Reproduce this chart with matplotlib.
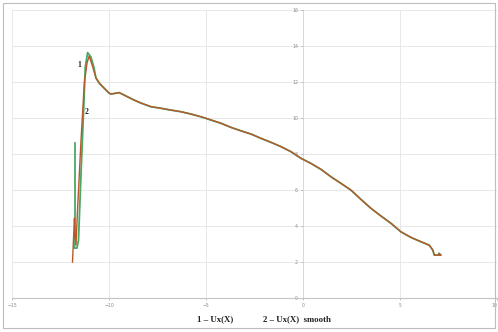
import matplotlib
matplotlib.use('Agg')
import matplotlib.pyplot as plt
from matplotlib.patches import Rectangle

# curve 2 - Ux(X) smooth
red_x = [-11.88, -11.83, -11.78, -11.75, -11.70, -11.62, -11.44, -11.27, -11.13, -11.02,
         -10.84, -10.67, -10.50, -10.26, -10.00, -9.90, -9.47, -9.23, -8.71, -8.35,
         -7.84, -7.32, -6.80, -6.29, -5.77, -5.26, -4.74, -4.23, -3.71, -3.20,
         -2.68, -2.16, -1.65, -1.13, -0.62, -0.10, 0.41, 0.93, 1.44, 1.96,
         2.47, 2.99, 3.51, 4.02, 4.54, 5.05, 5.57, 6.08, 6.51, 6.69,
         6.77, 7.11, 7.01]
red_y = [2.00, 3.22, 4.44, 3.50, 2.94, 4.89, 8.78, 11.94, 13.06, 13.44,
         12.85, 12.22, 11.94, 11.67, 11.39, 11.33, 11.41, 11.28, 11.00, 10.83,
         10.63, 10.54, 10.44, 10.35, 10.22, 10.07, 9.89, 9.71, 9.48, 9.29,
         9.11, 8.87, 8.65, 8.41, 8.13, 7.76, 7.48, 7.15, 6.74, 6.37,
         6.00, 5.48, 4.98, 4.56, 4.15, 3.68, 3.37, 3.13, 2.94, 2.67,
         2.39, 2.39, 2.48]

# curve 1 - Ux(X), start part (after the peak it runs under curve 2)
green_x0 = [-11.75, -11.75, -11.80, -11.65, -11.57, -11.44, -11.30, -11.22, -11.10, -10.93, -10.77]
green_y0 = [8.61, 3.06, 2.78, 2.78, 3.22, 6.94, 10.61, 12.83, 13.63, 13.39, 12.78]

x_ticks = [-15, -10, -5, 0, 5, 10]
y_ticks = [0, 2, 4, 6, 8, 10, 12, 14, 16]

green_x = green_x0 + red_x[11:]
green_y = green_y0 + red_y[11:]

fig = plt.figure(figsize=(4.98, 3.32), dpi=100)
ax = fig.add_axes([0.024, 0.102, 0.974, 0.868])

ax.plot(green_x, green_y, color='#4aa865', lw=1.3, zorder=3)
ax.plot(red_x, red_y, color='#b8582a', lw=1.0, zorder=4)

ax.set_xlim(-15, 10)
ax.set_ylim(0, 16)
ax.set_xticks(x_ticks)
ax.set_yticks(y_ticks)
ax.grid(True, color='#e4e4e4', lw=0.6)
ax.set_axisbelow(True)

for s in ['top', 'right']:
    ax.spines[s].set_visible(False)
ax.spines['left'].set_position(('data', 0))
ax.spines['left'].set_color('#d6d6d6')
ax.spines['bottom'].set_color('#c4c4c4')
ax.spines['left'].set_linewidth(0.6)
ax.spines['bottom'].set_linewidth(0.8)
ax.tick_params(axis='both', labelsize=3.3, colors='#8a8a8a', length=1.5, width=0.4, pad=2)
ax.get_xticklabels()[-1].set_ha('right')

# text labels near the peak
ax.text(-11.53, 12.94, '1', fontsize=5.5, fontweight='bold', family='Liberation Serif',
        ha='center', va='center', color='#222222')
ax.text(-11.13, 10.35, '2', fontsize=5.5, fontweight='bold', family='Liberation Serif',
        ha='center', va='center', color='#222222')

fig.text(0.432, 0.04, '1 – Ux(X)', fontsize=6.3, fontweight='bold', family='Liberation Serif',
         ha='center', va='center', color='#222222')
fig.text(0.596, 0.04, '2 – Ux(X)  smooth', fontsize=6.3, fontweight='bold', family='Liberation Serif',
         ha='center', va='center', color='#222222')

fig.patches.append(Rectangle((0.006, 0.012), 0.988, 0.978, transform=fig.transFigure,
                             fill=False, edgecolor='#bdbdbd', lw=0.8))

fig.savefig('out.png', dpi=100)
